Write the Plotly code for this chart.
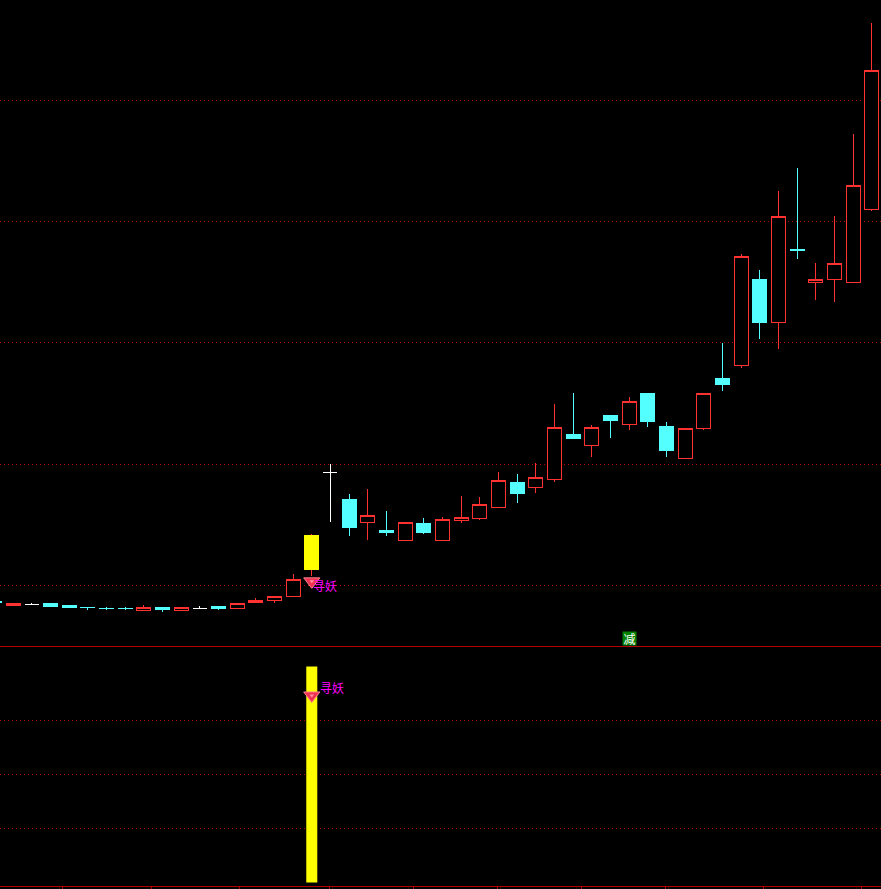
import plotly.graph_objects as go

# candle values, index 0 is the one cut off at the left edge
days = list(range(48))
opens = [8.64, 8.31, 8.44, 8.48, 8.31, 8.19, 8.11, 8.11, 7.90, 8.15, 7.90, 8.11, 8.23, 8.11, 8.56, 8.76,
         9.08, 11.28, 19.33, 17.05, 15.18, 14.49, 13.70, 15.07, 13.70, 15.34, 15.51, 16.42, 18.45, 18.06,
         18.72, 22.41, 21.53, 23.97, 23.26, 25.79, 23.07, 20.45, 22.93, 27.03, 28.12, 35.19, 31.70, 37.66,
         34.96, 35.21, 34.96, 40.98]
closes = [8.56, 8.48, 8.44, 8.23, 8.15, 8.17, 8.09, 8.09, 8.15, 7.98, 8.15, 8.11, 8.06, 8.48, 8.72, 9.05,
          10.45, 14.08, 19.33, 14.74, 15.79, 14.33, 15.21, 14.33, 15.46, 15.62, 16.70, 18.67, 17.54, 18.92,
          23.04, 22.08, 23.04, 23.56, 25.19, 23.48, 21.09, 22.96, 25.85, 26.53, 37.14, 31.64, 40.44, 37.64,
          35.24, 36.56, 42.99, 52.47]
highs = [8.64, 8.56, 8.56, 8.48, 8.31, 8.19, 8.23, 8.23, 8.39, 8.15, 8.23, 8.31, 8.23, 8.56, 8.97, 9.05,
         10.95, 14.25, 20.02, 17.54, 17.96, 16.14, 15.21, 15.57, 15.65, 17.38, 17.30, 19.36, 19.19, 20.10,
         24.96, 25.87, 23.23, 23.97, 25.54, 25.79, 23.48, 22.96, 25.85, 29.99, 37.33, 36.01, 42.52, 44.42,
         36.59, 40.46, 47.22, 56.37]
lows = [8.56, 8.31, 8.39, 8.23, 8.15, 7.98, 7.98, 7.98, 7.90, 7.82, 7.90, 8.11, 7.98, 8.11, 8.72, 8.56,
        9.08, 10.78, 15.26, 14.08, 13.75, 14.08, 13.70, 14.25, 13.70, 15.15, 15.40, 16.42, 16.80, 17.63,
        18.53, 22.08, 20.59, 22.16, 22.82, 23.07, 20.59, 20.45, 22.82, 26.04, 27.93, 30.32, 29.50, 36.92,
        33.54, 33.37, 34.96, 40.88]

grid_prices = [10, 20, 30, 40, 50]
signal_day = 17
signal_value = 100
grid_values = [25, 50, 75]
tick_days = [3.67, 8.44, 13.15, 17.93, 22.44, 26.94, 31.45, 35.95, 41.2, 46.46]
label_text = "寻妖"
jian_day = 34

RED = "#ff3232"
CYAN = "#54ffff"
WHITE = "#ffffff"
YELLOW = "#ffff00"
DARKRED = "#b00000"


def candles(idx, line, fill):
    side = dict(line=dict(color=line, width=1), fillcolor=fill)
    return go.Candlestick(x=[days[i] for i in idx], open=[opens[i] for i in idx], high=[highs[i] for i in idx],
                          low=[lows[i] for i in idx], close=[closes[i] for i in idx],
                          increasing=side, decreasing=side, whiskerwidth=0, showlegend=False,
                          xaxis="x", yaxis="y")


up = [i for i in days if closes[i] > opens[i]]
down = [i for i in days if closes[i] < opens[i]]
flat = [i for i in days if closes[i] == opens[i]]
solid_red = [1, 14]

fig = go.Figure()
fig.add_trace(candles(up, RED, "#000000"))
fig.add_trace(candles(solid_red, RED, RED))
fig.add_trace(candles(down, CYAN, CYAN))
fig.add_trace(candles(flat, WHITE, WHITE))

# the yellow body sits over the red wick of the signal day
fig.add_trace(go.Candlestick(x=[signal_day], open=[opens[signal_day]], close=[closes[signal_day]],
                             high=[closes[signal_day]], low=[opens[signal_day]],
                             increasing=dict(line=dict(color=YELLOW, width=1), fillcolor=YELLOW),
                             whiskerwidth=0, showlegend=False, xaxis="x", yaxis="y"))

fig.add_trace(go.Bar(x=[signal_day], y=[signal_value], width=0.59, marker=dict(color=YELLOW, line=dict(width=0)),
                     showlegend=False, xaxis="x2", yaxis="y2"))

# gem markers, both panels
for xa, ya, gy in (("x", "y", 10.33), ("x2", "y2", 86.6)):
    fig.add_trace(go.Scatter(x=[signal_day], y=[gy], mode="markers", xaxis=xa, yaxis=ya, showlegend=False,
                             marker=dict(symbol="triangle-down", size=14, color="#f03050",
                                         line=dict(color="#ff8090", width=1))))
    fig.add_trace(go.Scatter(x=[signal_day], y=[gy], mode="markers", xaxis=xa, yaxis=ya, showlegend=False,
                             marker=dict(symbol="triangle-down", size=4, color="#ff90a0", line=dict(width=0))))

fig.add_annotation(x=signal_day, y=10.0, xref="x", yref="y", text=label_text, showarrow=False,
                   xanchor="left", xshift=-1, font=dict(color="#ff00ff", size=12, family="Noto Sans CJK SC"))
fig.add_annotation(x=signal_day, y=90.5, xref="x2", yref="y2", text=label_text, showarrow=False,
                   xanchor="left", xshift=6, font=dict(color="#ff00ff", size=12, family="Noto Sans CJK SC"))
fig.add_annotation(x=jian_day, y=5.63, xref="x", yref="y", text="减", showarrow=False, bgcolor="#008000",
                   borderpad=0, width=13, height=13, font=dict(color="#ffffff", size=12, family="Noto Sans CJK SC"))

fig.update_layout(
    width=881, height=889, margin=dict(l=0, r=0, t=0, b=3),
    paper_bgcolor="#000000", plot_bgcolor="#000000", showlegend=False,
    boxgap=0.25, boxgroupgap=0, boxmode="overlay",
    xaxis=dict(domain=[0, 1], range=[0.30, 47.489], rangeslider=dict(visible=False), showgrid=False,
               zeroline=False, showticklabels=False, ticks="", showline=True, linecolor=DARKRED, linewidth=1,
               anchor="y"),
    yaxis=dict(domain=[240 / 886, 1], range=[5.0, 58.27], tickvals=grid_prices, showticklabels=False, ticks="",
               showgrid=True, gridcolor=DARKRED, griddash="1px,3px", gridwidth=1, zeroline=False, anchor="x"),
    xaxis2=dict(domain=[0, 1], range=[0.30, 47.489], showgrid=False, zeroline=False, showticklabels=False,
                tickvals=tick_days, ticks="outside", ticklen=3, tickcolor=DARKRED, showline=True,
                linecolor=DARKRED, linewidth=1, anchor="y2"),
    yaxis2=dict(domain=[0, 240 / 886], range=[-1.6, 109.5], tickvals=grid_values, showticklabels=False, ticks="",
                showgrid=True, gridcolor=DARKRED, griddash="1px,3px", gridwidth=1, zeroline=False, anchor="x2"),
)

# sharp 1px candle strokes like the terminal draws them
post = ("document.body.style.margin='0';"
        "document.querySelectorAll('.boxlayer path').forEach(function(p){p.style.shapeRendering='crispEdges';});")
fig.write_html("out.html", config={"displayModeBar": False}, post_script=post)
